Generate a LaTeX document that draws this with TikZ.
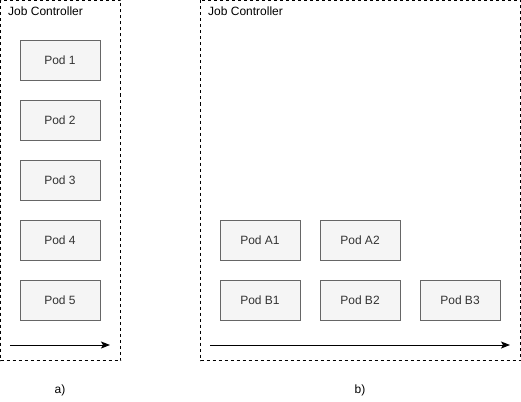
\documentclass[tikz,border=0pt]{standalone}
\usepackage{fontspec}
\setmainfont{Liberation Sans}
\usetikzlibrary{arrows.meta}
\definecolor{podfill}{HTML}{F5F5F5}
\definecolor{podline}{HTML}{666666}
\definecolor{podtext}{HTML}{333333}
\tikzset{
  pod/.style={draw=podline, fill=podfill, text=podtext, minimum width=80pt, minimum height=40pt, inner sep=0pt, font=\fontsize{12}{14}\selectfont},
  ctrl/.style={draw=black, dash pattern=on 3pt off 3pt, fill=white},
  ctitle/.style={anchor=west, inner sep=0pt, font=\fontsize{12}{14}\selectfont},
  lbl/.style={inner sep=0pt, font=\fontsize{12}{14}\selectfont},
  timeline/.style={-{Stealth[length=9pt,width=7pt,inset=2pt]}, line width=1pt}
}
\begin{document}
\begin{tikzpicture}[x=1pt,y=-1pt]
\useasboundingbox (0,0) rectangle (521,401);
% containers
\draw[ctrl] (0.5,0.5) rectangle (120.5,360.5);
\draw[ctrl] (200.5,0.5) rectangle (520.5,360.5);
\node[ctitle] (ta) at (8,11) {Job Controller};
\node[ctitle] (tb) at (208,11) {Job Controller};
% a) pods
\node[pod] (p1) at (60,60) {Pod 1};
\node[pod] (p2) at (60,120) {Pod 2};
\node[pod] (p3) at (60,180) {Pod 3};
\node[pod] (p4) at (60,240) {Pod 4};
\node[pod] (p5) at (60,300) {Pod 5};
% b) pods
\node[pod] (pa1) at (260,240) {Pod A1};
\node[pod] (pa2) at (360,240) {Pod A2};
\node[pod] (pb1) at (260,300) {Pod B1};
\node[pod] (pb2) at (360,300) {Pod B2};
\node[pod] (pb3) at (460,300) {Pod B3};
% time arrows
\coordinate (as) at (10,345);
\coordinate (ae) at (110,345);
\coordinate (bs) at (210,345);
\coordinate (be) at (510,345);
\draw[timeline] (as) -- (ae);
\draw[timeline] (bs) -- (be);
% labels
\node[lbl] (la) at (60,390) {a)};
\node[lbl] (lb) at (360,390) {b)};
\end{tikzpicture}
\end{document}
